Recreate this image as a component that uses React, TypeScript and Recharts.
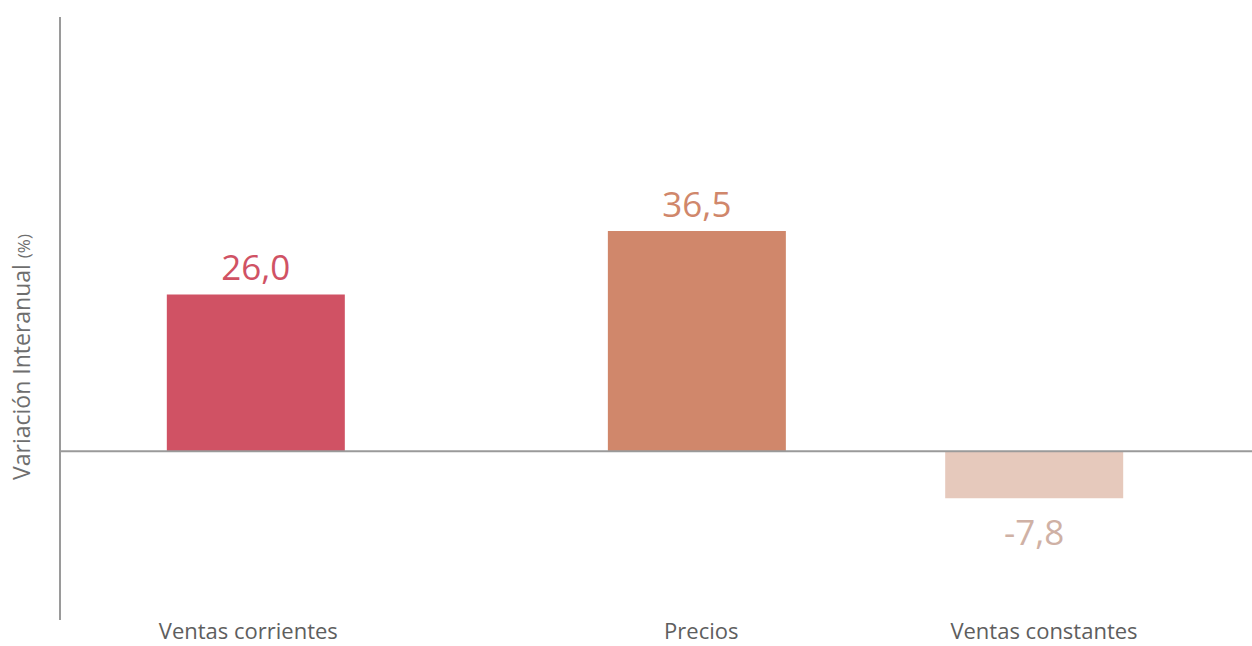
import React from 'react';
import { BarChart, Bar, XAxis, YAxis, Cell, LabelList, ReferenceLine } from 'recharts';

const categories = ['Ventas corrientes', 'Precios', 'Ventas constantes'];
const values = [26.0, 36.5, -7.8];
// horizontal slot of each bar on a 0-100 axis (the source spaces them unevenly)
const slots = [16.4, 53.4, 81.7];
// category names sit slightly off the bar centres in the source
const tickSlots = [15.8, 53.8, 82.55];
const barColors = ['#d05264', '#d0876b', '#e6c9bc'];
const labelColors = ['#d05264', '#d0876b', '#cfb1a5'];

const data = categories.map((name, i) => ({ name, slot: slots[i], value: values[i] }));

const FONT = '"Open Sans", sans-serif';
const AXIS = '#9a9a9a';

const ValueLabel = (props: any) => {
  const { x, y, width, height, value, index } = props;
  const cx = x + width / 2;
  const top = Math.min(y, y + height);
  const bottom = Math.max(y, y + height);
  const ty = value >= 0 ? top - 14 : bottom + 47;
  return (
    <text x={cx} y={ty} textAnchor="middle" fontFamily={FONT} fontSize={35} fill={labelColors[index]}>
      {Number(value).toFixed(1).replace('.', ',')}
    </text>
  );
};

const YTitle = () => (
  <text
    x={0}
    y={0}
    transform="translate(30, 357) rotate(-90)"
    textAnchor="middle"
    fontFamily={FONT}
    fontSize={23}
    fill="#6e6e6e"
  >
    Variación Interanual <tspan fontSize={17}>(%)</tspan>
  </text>
);

const App = () => {
  const nameBySlot = (v: number) => {
    const i = tickSlots.indexOf(v);
    return i >= 0 ? categories[i] : '';
  };
  return (
    <div style={{ position: 'absolute', left: 0, top: 0, background: '#fff' }}>
      <BarChart width={1252} height={646} data={data} margin={{ top: 17, right: 0, bottom: 0, left: 0 }}>
        <XAxis
          dataKey="slot"
          type="number"
          domain={[0, 100]}
          ticks={tickSlots}
          tickFormatter={nameBySlot}
          axisLine={false}
          tickLine={false}
          tickSize={0}
          tickMargin={3}
          height={26}
          interval={0}
          tick={{ fontFamily: FONT, fontSize: 22, fill: '#5e5e5e' }}
        />
        <YAxis
          type="number"
          domain={[-28, 72]}
          width={60}
          tick={false}
          tickLine={false}
          axisLine={{ stroke: AXIS, strokeWidth: 2 }}
          label={{ content: YTitle }}
        />
        <ReferenceLine y={0} stroke={AXIS} strokeWidth={2} />
        <Bar dataKey="value" barSize={178} isAnimationActive={false}>
          {data.map((d, i) => (
            <Cell key={d.name} fill={barColors[i]} />
          ))}
          <LabelList dataKey="value" content={ValueLabel} />
        </Bar>
      </BarChart>
    </div>
  );
};

export default App;
